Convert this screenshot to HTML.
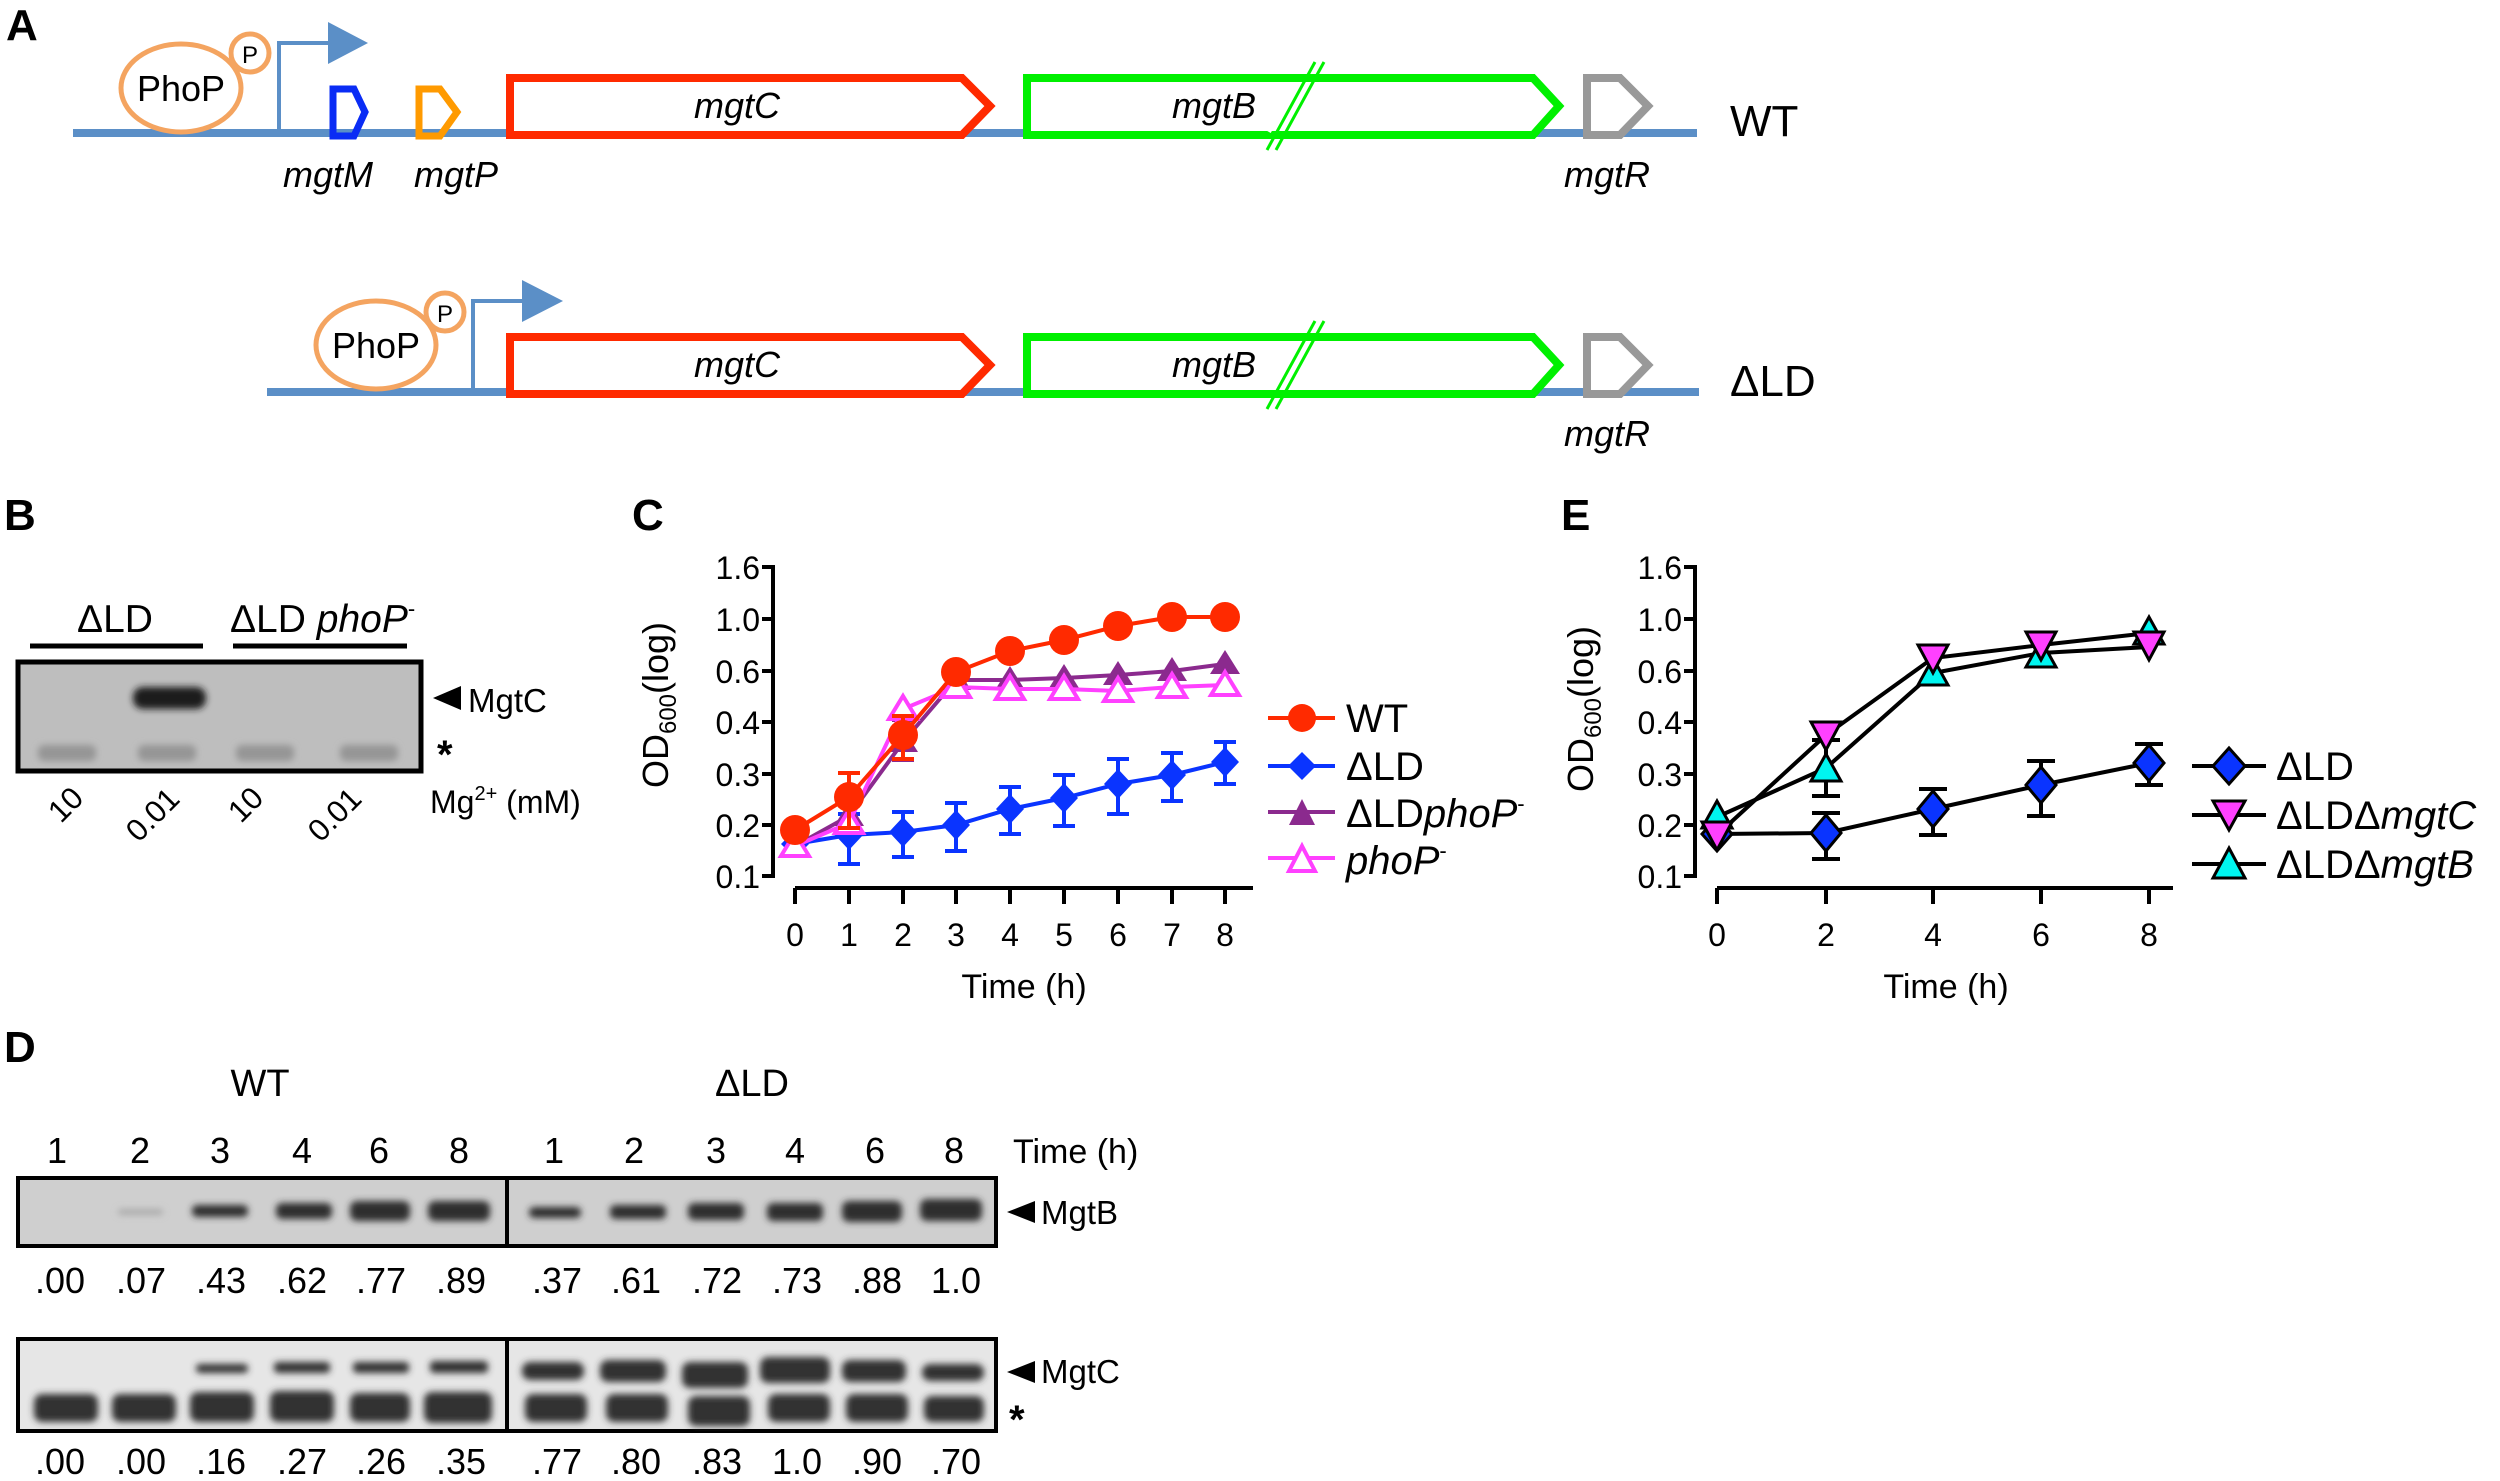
<!DOCTYPE html>
<html><head><meta charset="utf-8"><style>
html,body{margin:0;padding:0;background:#fff}
svg{display:block}
text{font-family:"Liberation Sans",Arial,sans-serif;fill:#000}
</style></head><body>
<svg width="2500" height="1481" viewBox="0 0 2500 1481" xmlns="http://www.w3.org/2000/svg">
<defs>
<filter id="bl" x="-20%" y="-60%" width="140%" height="220%"><feGaussianBlur stdDeviation="3.5"/></filter>
</defs>
<!-- Panel A -->
<text x="6" y="40" font-size="44" font-weight="bold">A</text>
<line x1="73" y1="133" x2="1697" y2="133" stroke="#5b8fc7" stroke-width="8"/>
<ellipse cx="181" cy="88" rx="60" ry="44" fill="#fff" stroke="#f4a460" stroke-width="5"/>
<text x="181" y="101" font-size="36" text-anchor="middle">PhoP</text>
<circle cx="250" cy="53" r="19" fill="#fff" stroke="#f4a460" stroke-width="5"/>
<text x="250" y="63" font-size="24" text-anchor="middle">P</text>
<polyline points="279,130 279,43 330,43" fill="none" stroke="#5b8fc7" stroke-width="4"/>
<polygon points="328,22 368,43 328,64" fill="#5b8fc7"/>
<polygon points="333,89 354,89 365,112 354,136 333,136" fill="none" stroke="#0a2cf5" stroke-width="7"/>
<polygon points="419,89 440,89 457,112 440,136 419,136" fill="none" stroke="#ff9a00" stroke-width="7"/>
<polygon points="510,78 962,78 990,106 962,135 510,135" fill="#fff" stroke="#ff2a00" stroke-width="8"/>
<polygon points="1027,78 1533,78 1559,106 1533,135 1027,135" fill="#fff" stroke="#00f000" stroke-width="8"/>
<line x1="1267" y1="150" x2="1315" y2="62" stroke="#00f000" stroke-width="3"/>
<line x1="1276" y1="150" x2="1324" y2="62" stroke="#00f000" stroke-width="3"/>
<line x1="1269" y1="132" x2="1282" y2="108" stroke="#fff" stroke-width="4"/>
<polygon points="1587,78 1620,78 1648,106 1620,135 1587,135" fill="#fff" stroke="#999" stroke-width="8"/>
<text x="737" y="118" font-size="36" font-style="italic" text-anchor="middle">mgtC</text>
<text x="1214" y="118" font-size="36" font-style="italic" text-anchor="middle">mgtB</text>
<text x="328" y="187" font-size="36" font-style="italic" text-anchor="middle">mgtM</text>
<text x="456" y="187" font-size="36" font-style="italic" text-anchor="middle">mgtP</text>
<text x="1607" y="187" font-size="36" font-style="italic" text-anchor="middle">mgtR</text>
<text x="1730" y="136" font-size="44">WT</text>

<line x1="267" y1="392" x2="1699" y2="392" stroke="#5b8fc7" stroke-width="8"/>
<ellipse cx="376" cy="345" rx="60" ry="44" fill="#fff" stroke="#f4a460" stroke-width="5"/>
<text x="376" y="358" font-size="36" text-anchor="middle">PhoP</text>
<circle cx="445" cy="312" r="19" fill="#fff" stroke="#f4a460" stroke-width="5"/>
<text x="445" y="322" font-size="24" text-anchor="middle">P</text>
<polyline points="473,390 473,301 524,301" fill="none" stroke="#5b8fc7" stroke-width="4"/>
<polygon points="522,280 563,301 522,322" fill="#5b8fc7"/>
<polygon points="510,337 962,337 990,365 962,394 510,394" fill="#fff" stroke="#ff2a00" stroke-width="8"/>
<polygon points="1027,337 1533,337 1559,365 1533,394 1027,394" fill="#fff" stroke="#00f000" stroke-width="8"/>
<line x1="1267" y1="409" x2="1315" y2="321" stroke="#00f000" stroke-width="3"/>
<line x1="1276" y1="409" x2="1324" y2="321" stroke="#00f000" stroke-width="3"/>
<polygon points="1587,337 1620,337 1648,365 1620,394 1587,394" fill="#fff" stroke="#999" stroke-width="8"/>
<text x="737" y="377" font-size="36" font-style="italic" text-anchor="middle">mgtC</text>
<text x="1214" y="377" font-size="36" font-style="italic" text-anchor="middle">mgtB</text>
<text x="1607" y="446" font-size="36" font-style="italic" text-anchor="middle">mgtR</text>
<text x="1730" y="396" font-size="44">ΔLD</text>

<!-- Panel B -->
<text x="4" y="530" font-size="44" font-weight="bold">B</text>
<text x="115" y="632" font-size="39" text-anchor="middle">ΔLD</text>
<text x="230" y="632" font-size="39">ΔLD <tspan font-style="italic">phoP</tspan><tspan font-size="22" dy="-16">-</tspan></text>
<line x1="30" y1="646" x2="203" y2="646" stroke="#000" stroke-width="5"/>
<line x1="233" y1="646" x2="407" y2="646" stroke="#000" stroke-width="5"/>
<rect x="18" y="662" width="403" height="109" fill="#bebebe" stroke="#000" stroke-width="5"/>
<rect x="133" y="687" width="73" height="22" rx="10" fill="#1a1a1a" filter="url(#bl)"/>
<g fill="#959595" filter="url(#bl)">
<rect x="38" y="745" width="58" height="16" rx="6"/>
<rect x="138" y="745" width="58" height="16" rx="6"/>
<rect x="236" y="745" width="58" height="16" rx="6"/>
<rect x="340" y="745" width="58" height="16" rx="6"/>
</g>
<polygon points="433,698 461,686 461,710" fill="#000"/>
<text x="468" y="712" font-size="33">MgtC</text>
<text x="437" y="768" font-size="40" font-weight="bold">*</text>
<g font-size="31" text-anchor="middle">
<text transform="translate(73,812) rotate(-45)">10</text>
<text transform="translate(160,822) rotate(-45)">0.01</text>
<text transform="translate(253,812) rotate(-45)">10</text>
<text transform="translate(342,822) rotate(-45)">0.01</text>
</g>
<text x="430" y="813" font-size="32">Mg<tspan font-size="20" dy="-13">2+</tspan><tspan dy="13"> (mM)</tspan></text>

<!-- Panel C -->
<text x="632" y="530" font-size="44" font-weight="bold">C</text>
<g stroke="#000" stroke-width="4" fill="none">
<polyline points="762,567 773,567 773,876 762,876"/>
<line x1="762" y1="619" x2="773" y2="619"/><line x1="762" y1="671" x2="773" y2="671"/>
<line x1="762" y1="722" x2="773" y2="722"/><line x1="762" y1="774" x2="773" y2="774"/>
<line x1="762" y1="825" x2="773" y2="825"/>
<line x1="795" y1="888" x2="1253" y2="888"/>
<line x1="795" y1="888" x2="795" y2="904"/><line x1="849" y1="888" x2="849" y2="904"/>
<line x1="903" y1="888" x2="903" y2="904"/><line x1="956" y1="888" x2="956" y2="904"/>
<line x1="1010" y1="888" x2="1010" y2="904"/><line x1="1064" y1="888" x2="1064" y2="904"/>
<line x1="1118" y1="888" x2="1118" y2="904"/><line x1="1172" y1="888" x2="1172" y2="904"/>
<line x1="1225" y1="888" x2="1225" y2="904"/>
</g>
<g font-size="32" text-anchor="end">
<text x="760" y="579">1.6</text><text x="760" y="631">1.0</text><text x="760" y="683">0.6</text>
<text x="760" y="734">0.4</text><text x="760" y="786">0.3</text><text x="760" y="837">0.2</text><text x="760" y="888">0.1</text>
</g>
<g font-size="32" text-anchor="middle">
<text x="795" y="946">0</text><text x="849" y="946">1</text><text x="903" y="946">2</text><text x="956" y="946">3</text>
<text x="1010" y="946">4</text><text x="1064" y="946">5</text><text x="1118" y="946">6</text><text x="1172" y="946">7</text><text x="1225" y="946">8</text>
</g>
<text x="1024" y="998" font-size="34" text-anchor="middle">Time (h)</text>
<text transform="translate(668,705) rotate(-90)" font-size="36" text-anchor="middle">OD<tspan font-size="24" dy="8">600</tspan><tspan dy="-8">(log)</tspan></text>
<g stroke="#0a34ff" stroke-width="4" fill="none">
<polyline points="795,844 849,835 903,832 956,825 1010,809 1064,798 1118,784 1172,775 1225,762"/>
<path d="M849,814V864M838,814H860M838,864H860 M903,812V857M892,812H914M892,857H914 M956,803V851M945,803H967M945,851H967 M1010,787V834M999,787H1021M999,834H1021 M1064,775V826M1053,775H1075M1053,826H1075 M1118,759V814M1107,759H1129M1107,814H1129 M1172,753V801M1161,753H1183M1161,801H1183 M1225,742V784M1214,742H1236M1214,784H1236"/>
</g>
<g fill="#0a34ff">
<polygon points="795,830 809,844 795,858 781,844"/><polygon points="849,820 863,835 849,850 835,835"/>
<polygon points="903,817 917,832 903,847 889,832"/><polygon points="956,810 970,825 956,840 942,825"/>
<polygon points="1010,794 1024,809 1010,824 996,809"/><polygon points="1064,783 1078,798 1064,813 1050,798"/>
<polygon points="1118,769 1132,784 1118,799 1104,784"/><polygon points="1172,760 1186,775 1172,790 1158,775"/>
<polygon points="1225,747 1239,762 1225,777 1211,762"/>
</g>
<polyline points="795,846 849,816 903,742 956,680 1010,680 1064,678 1118,675 1172,671 1225,664" fill="none" stroke="#8b2a8e" stroke-width="4"/>
<g fill="#8b2a8e">
<polygon points="795,832 810,856 780,856"/><polygon points="849,802 864,826 834,826"/><polygon points="903,728 918,752 888,752"/>
<polygon points="956,666 971,690 941,690"/><polygon points="1010,666 1025,690 995,690"/><polygon points="1064,664 1079,688 1049,688"/>
<polygon points="1118,661 1133,685 1103,685"/><polygon points="1172,657 1187,681 1157,681"/><polygon points="1225,650 1240,674 1210,674"/>
</g>
<path d="M892,720H914M892,760H914" stroke="#8b2a8e" stroke-width="4"/>
<polyline points="795,846 849,823 903,709 956,687 1010,689 1064,689 1118,691 1172,687 1225,685" fill="none" stroke="#ff40ff" stroke-width="4"/>
<g fill="#fff" stroke="#ff40ff" stroke-width="4">
<polygon points="795,833 809,856 781,856"/><polygon points="849,810 863,833 835,833"/><polygon points="903,696 917,719 889,719"/>
<polygon points="956,674 970,697 942,697"/><polygon points="1010,676 1024,699 996,699"/><polygon points="1064,676 1078,699 1050,699"/>
<polygon points="1118,678 1132,701 1104,701"/><polygon points="1172,674 1186,697 1158,697"/><polygon points="1225,672 1239,695 1211,695"/>
</g>
<g stroke="#ff2a00" stroke-width="4" fill="none">
<polyline points="795,830 849,797 903,735 956,672 1010,651 1064,640 1118,626 1172,617 1225,617"/>
<path d="M849,773V828M838,773H860M838,828H860 M903,716V759M892,716H914M892,759H914"/>
</g>
<g fill="#ff2a00">
<circle cx="795" cy="830" r="15"/><circle cx="849" cy="797" r="15"/><circle cx="903" cy="735" r="15"/>
<circle cx="956" cy="672" r="15"/><circle cx="1010" cy="651" r="15"/><circle cx="1064" cy="640" r="15"/>
<circle cx="1118" cy="626" r="15"/><circle cx="1172" cy="617" r="15"/><circle cx="1225" cy="617" r="15"/>
</g>
<line x1="1268" y1="718" x2="1335" y2="718" stroke="#ff2a00" stroke-width="4"/><circle cx="1302" cy="718" r="14" fill="#ff2a00"/>
<line x1="1268" y1="766" x2="1335" y2="766" stroke="#0a34ff" stroke-width="4"/><polygon points="1302,752 1316,766 1302,780 1288,766" fill="#0a34ff"/>
<line x1="1268" y1="812" x2="1335" y2="812" stroke="#8b2a8e" stroke-width="4"/><polygon points="1302,799 1315,825 1289,825" fill="#8b2a8e"/>
<line x1="1268" y1="858" x2="1335" y2="858" stroke="#ff40ff" stroke-width="4"/><polygon points="1302,846 1315,871 1289,871" fill="#fff" stroke="#ff40ff" stroke-width="4"/>
<g font-size="40">
<text x="1346" y="732">WT</text>
<text x="1346" y="780">ΔLD</text>
<text x="1346" y="827">ΔLD<tspan font-style="italic">phoP</tspan><tspan font-size="22" dy="-16">-</tspan></text>
<text x="1346" y="874" font-style="italic">phoP<tspan font-size="22" dy="-16" font-style="normal">-</tspan></text>
</g>

<!-- Panel E -->
<text x="1561" y="530" font-size="44" font-weight="bold">E</text>
<g stroke="#000" stroke-width="4" fill="none">
<polyline points="1684,567 1695,567 1695,876 1684,876"/>
<line x1="1684" y1="619" x2="1695" y2="619"/><line x1="1684" y1="671" x2="1695" y2="671"/>
<line x1="1684" y1="722" x2="1695" y2="722"/><line x1="1684" y1="774" x2="1695" y2="774"/>
<line x1="1684" y1="825" x2="1695" y2="825"/>
<line x1="1717" y1="888" x2="2173" y2="888"/>
<line x1="1717" y1="888" x2="1717" y2="904"/><line x1="1826" y1="888" x2="1826" y2="904"/>
<line x1="1933" y1="888" x2="1933" y2="904"/><line x1="2041" y1="888" x2="2041" y2="904"/>
<line x1="2149" y1="888" x2="2149" y2="904"/>
</g>
<g font-size="32" text-anchor="end">
<text x="1682" y="579">1.6</text><text x="1682" y="631">1.0</text><text x="1682" y="683">0.6</text>
<text x="1682" y="734">0.4</text><text x="1682" y="786">0.3</text><text x="1682" y="837">0.2</text><text x="1682" y="888">0.1</text>
</g>
<g font-size="32" text-anchor="middle">
<text x="1717" y="946">0</text><text x="1826" y="946">2</text><text x="1933" y="946">4</text><text x="2041" y="946">6</text><text x="2149" y="946">8</text>
</g>
<text x="1946" y="998" font-size="34" text-anchor="middle">Time (h)</text>
<text transform="translate(1593,709) rotate(-90)" font-size="36" text-anchor="middle">OD<tspan font-size="24" dy="8">600</tspan><tspan dy="-8">(log)</tspan></text>
<g stroke="#000" stroke-width="4" fill="none">
<polyline points="1717,834 1826,833 1933,809 2041,785 2149,763"/>
<polyline points="1717,835 1826,735 1933,658 2041,645 2149,633"/>
<polyline points="1717,817 1826,768 1933,673 2041,653 2149,647"/>
<path d="M1826,813V859M1812,813H1840M1812,859H1840 M1933,789V835M1919,789H1947M1919,835H1947 M2041,761V816M2027,761H2055M2027,816H2055 M2149,744V785M2135,744H2163M2135,785H2163 M1826,740V796M1812,740H1840M1812,796H1840"/>
</g>
<g stroke="#000" stroke-width="3">
<g fill="#0a34ff">
<polygon points="1717,817 1732,834 1717,851 1702,834"/><polygon points="1826,815 1841,833 1826,851 1811,833"/>
<polygon points="1933,791 1948,809 1933,827 1918,809"/><polygon points="2041,767 2056,785 2041,803 2026,785"/>
<polygon points="2149,745 2164,763 2149,781 2134,763"/>
</g>
<g fill="#00f5f0">
<polygon points="1717,801 1732,828 1702,828"/><polygon points="1826,754 1841,781 1811,781"/><polygon points="1933,658 1948,685 1918,685"/>
<polygon points="2041,640 2056,667 2026,667"/><polygon points="2149,617 2164,644 2134,644"/>
</g>
<g fill="#ff40ff">
<polygon points="1702,822 1732,822 1717,850"/><polygon points="1811,722 1841,722 1826,750"/><polygon points="1918,645 1948,645 1933,673"/>
<polygon points="2026,632 2056,632 2041,660"/><polygon points="2134,632 2164,632 2149,660"/>
</g>
</g>
<g stroke="#000" stroke-width="4">
<line x1="2192" y1="766" x2="2266" y2="766"/><line x1="2192" y1="815" x2="2266" y2="815"/><line x1="2192" y1="864" x2="2266" y2="864"/>
</g>
<g stroke="#000" stroke-width="3">
<polygon points="2229,748 2245,766 2229,784 2213,766" fill="#0a34ff"/>
<polygon points="2213,801 2245,801 2229,830" fill="#ff40ff"/>
<polygon points="2229,848 2245,878 2213,878" fill="#00f5f0"/>
</g>
<g font-size="40">
<text x="2276" y="780">ΔLD</text>
<text x="2276" y="829">ΔLDΔ<tspan font-style="italic">mgtC</tspan></text>
<text x="2276" y="878">ΔLDΔ<tspan font-style="italic">mgtB</tspan></text>
</g>

<!-- Panel D -->
<text x="4" y="1062" font-size="44" font-weight="bold">D</text>
<text x="260" y="1096" font-size="38" text-anchor="middle">WT</text>
<text x="752" y="1096" font-size="38" text-anchor="middle">ΔLD</text>
<g font-size="36" text-anchor="middle">
<text x="57" y="1163">1</text><text x="140" y="1163">2</text><text x="220" y="1163">3</text><text x="302" y="1163">4</text><text x="379" y="1163">6</text><text x="459" y="1163">8</text>
<text x="554" y="1163">1</text><text x="634" y="1163">2</text><text x="716" y="1163">3</text><text x="795" y="1163">4</text><text x="875" y="1163">6</text><text x="954" y="1163">8</text>
</g>
<text x="1013" y="1163" font-size="34">Time (h)</text>
<rect x="18" y="1178" width="978" height="68" fill="#cfcfcf" stroke="#000" stroke-width="4"/>
<line x1="507" y1="1178" x2="507" y2="1246" stroke="#000" stroke-width="4"/>
<g fill="#2e2e2e" filter="url(#bl)">
<rect x="118" y="1209" width="45" height="6" rx="3" fill="#aaa"/>
<rect x="192" y="1205" width="56" height="12" rx="5"/>
<rect x="276" y="1203" width="56" height="16" rx="6"/>
<rect x="350" y="1201" width="60" height="20" rx="7"/>
<rect x="428" y="1201" width="62" height="20" rx="7"/>
<rect x="529" y="1207" width="52" height="11" rx="5"/>
<rect x="610" y="1205" width="56" height="14" rx="5"/>
<rect x="688" y="1203" width="56" height="17" rx="6"/>
<rect x="767" y="1203" width="56" height="18" rx="6"/>
<rect x="842" y="1201" width="60" height="21" rx="7"/>
<rect x="920" y="1199" width="62" height="22" rx="7"/>
</g>
<polygon points="1007,1212 1035,1201 1035,1223" fill="#000"/>
<text x="1041" y="1224" font-size="33">MgtB</text>
<g font-size="36" text-anchor="middle">
<text x="60" y="1293">.00</text><text x="141" y="1293">.07</text><text x="221" y="1293">.43</text><text x="302" y="1293">.62</text><text x="381" y="1293">.77</text><text x="461" y="1293">.89</text>
<text x="557" y="1293">.37</text><text x="636" y="1293">.61</text><text x="717" y="1293">.72</text><text x="797" y="1293">.73</text><text x="877" y="1293">.88</text><text x="956" y="1293">1.0</text>
</g>
<rect x="18" y="1339" width="978" height="92" fill="#e6e6e6" stroke="#000" stroke-width="4"/>
<line x1="507" y1="1339" x2="507" y2="1431" stroke="#000" stroke-width="4"/>
<g fill="#333" filter="url(#bl)">
<rect x="196" y="1364" width="52" height="9" rx="4"/>
<rect x="274" y="1362" width="56" height="11" rx="4"/>
<rect x="353" y="1362" width="56" height="11" rx="4"/>
<rect x="430" y="1361" width="58" height="12" rx="4"/>
<rect x="34" y="1394" width="64" height="28" rx="8"/>
<rect x="112" y="1394" width="64" height="28" rx="8"/>
<rect x="190" y="1392" width="64" height="30" rx="8"/>
<rect x="270" y="1391" width="64" height="31" rx="8"/>
<rect x="350" y="1393" width="60" height="29" rx="8"/>
<rect x="424" y="1392" width="68" height="31" rx="8"/>
<rect x="522" y="1362" width="62" height="18" rx="8"/>
<rect x="600" y="1360" width="66" height="22" rx="8"/>
<rect x="682" y="1362" width="66" height="26" rx="8"/>
<rect x="760" y="1357" width="70" height="26" rx="8"/>
<rect x="842" y="1360" width="64" height="22" rx="8"/>
<rect x="922" y="1364" width="62" height="17" rx="8"/>
<rect x="525" y="1394" width="62" height="28" rx="8"/>
<rect x="606" y="1394" width="62" height="28" rx="8"/>
<rect x="688" y="1396" width="62" height="30" rx="8"/>
<rect x="768" y="1394" width="62" height="28" rx="8"/>
<rect x="846" y="1394" width="62" height="28" rx="8"/>
<rect x="924" y="1396" width="60" height="26" rx="8"/>
</g>
<polygon points="1007,1372 1035,1361 1035,1383" fill="#000"/>
<text x="1041" y="1383" font-size="33">MgtC</text>
<text x="1009" y="1433" font-size="40" font-weight="bold">*</text>
<g font-size="36" text-anchor="middle">
<text x="60" y="1474">.00</text><text x="141" y="1474">.00</text><text x="221" y="1474">.16</text><text x="302" y="1474">.27</text><text x="381" y="1474">.26</text><text x="461" y="1474">.35</text>
<text x="557" y="1474">.77</text><text x="636" y="1474">.80</text><text x="717" y="1474">.83</text><text x="797" y="1474">1.0</text><text x="877" y="1474">.90</text><text x="956" y="1474">.70</text>
</g>
</svg>
</body></html>
